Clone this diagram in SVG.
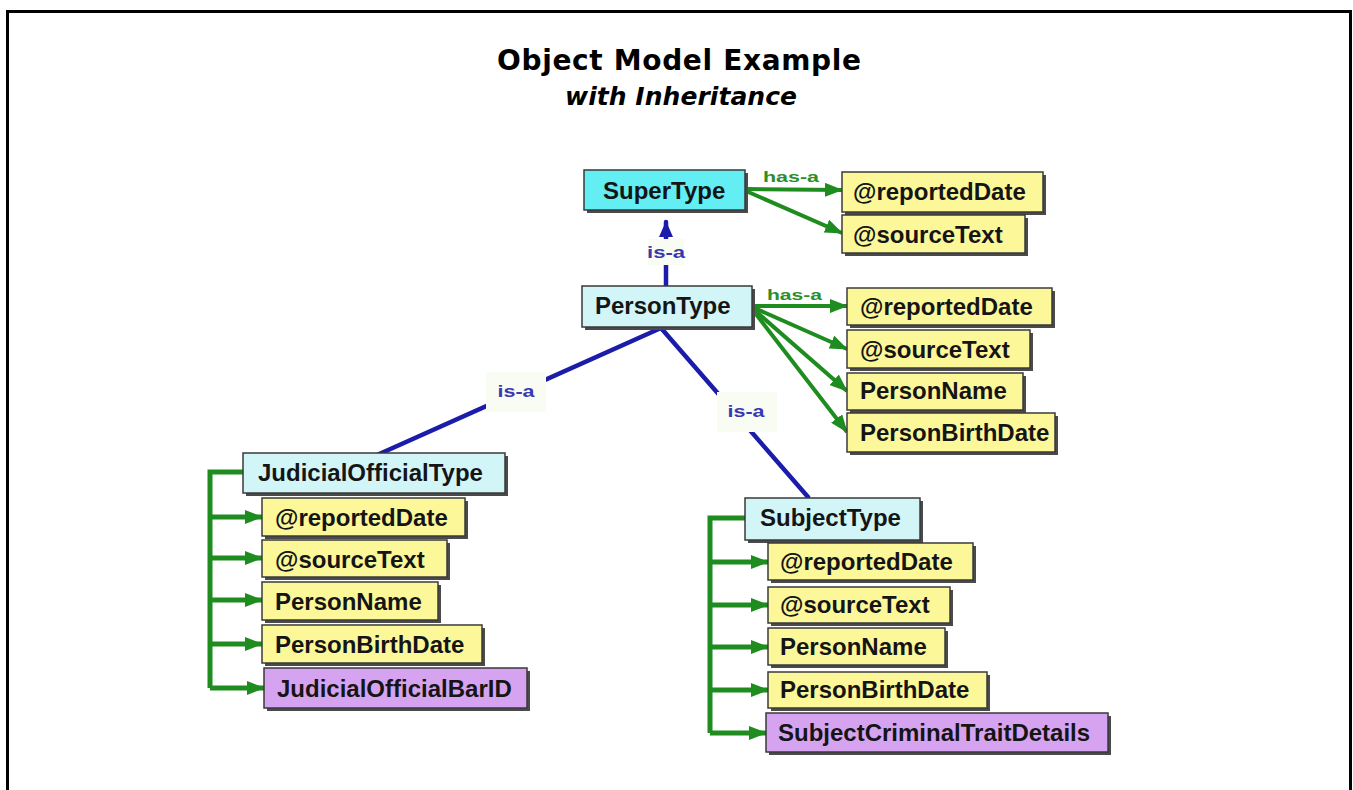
<svg xmlns="http://www.w3.org/2000/svg" width="1353" height="790" viewBox="0 0 1353 790">
<style>
.frame{fill:#fff;stroke:#000;stroke-width:3}
.t1{font-family:"DejaVu Sans",Verdana,sans-serif;font-weight:bold;font-size:28px;fill:#000}
.t2{font-family:"DejaVu Sans",Verdana,sans-serif;font-weight:bold;font-style:italic;font-size:25px;fill:#000}
.sh{fill:#4a4a4a}
.box{stroke:#3a3a3a;stroke-width:1.5}
.sup{fill:#62eef2}
.typ{fill:#d2f5f8}
.att{fill:#fcf89a}
.ext{fill:#d5a3f0}
.lbl{font-family:"Liberation Sans",Arial,sans-serif;font-weight:bold;font-size:24px;fill:#151515}
.g{stroke:#1e8c1e;stroke-width:5;fill:none}
.gh{stroke:#1e8c1e;stroke-width:4;fill:none}
.b{stroke:#1c1caa;stroke-width:4.5;fill:none;stroke-linecap:round}
.has{font-family:"Liberation Sans",Arial,sans-serif;font-weight:bold;font-size:15px;fill:#2a8f2a}
.isa{font-family:"Liberation Sans",Arial,sans-serif;font-weight:bold;font-size:16px;fill:#3838b0}
.lbg{fill:#f8fcf3}
</style>
<defs>
<marker id="ag" markerUnits="userSpaceOnUse" markerWidth="18" markerHeight="14" refX="17" refY="7" orient="auto">
<path d="M0,0 L18,7 L0,14 z" fill="#1e8c1e"/>
</marker>
<marker id="ab" markerUnits="userSpaceOnUse" markerWidth="16" markerHeight="14" refX="15" refY="7" orient="auto">
<path d="M0,0 L16,7 L0,14 z" fill="#1c1caa"/>
</marker>
</defs>
<rect class="frame" x="7.5" y="11.5" width="1343" height="800"/>
<g id="title">
<text class="t1" x="679" y="70" text-anchor="middle" textLength="364">Object Model Example</text>
<text class="t2" x="681" y="105" text-anchor="middle" textLength="232">with Inheritance</text>
</g>
<g id="connectors">
<line class="gh" x1="746" y1="189" x2="842" y2="190" marker-end="url(#ag)"/>
<line class="gh" x1="746" y1="191" x2="842" y2="233" marker-end="url(#ag)"/>
<line class="gh" x1="752" y1="306" x2="847" y2="306" marker-end="url(#ag)"/>
<line class="gh" x1="752" y1="307" x2="847" y2="349" marker-end="url(#ag)"/>
<line class="gh" x1="752" y1="308" x2="847" y2="391" marker-end="url(#ag)"/>
<line class="gh" x1="752" y1="309" x2="847" y2="432" marker-end="url(#ag)"/>
<line class="b" x1="666" y1="286" x2="666" y2="222" marker-end="url(#ab)"/>
<polyline class="b" points="377,455 661,328 808,497" stroke-linejoin="round"/>
<polyline class="g" points="243,472 210,472 210,688"/>
<line class="g" x1="210" y1="517" x2="262" y2="517" marker-end="url(#ag)"/>
<line class="g" x1="210" y1="558" x2="262" y2="558" marker-end="url(#ag)"/>
<line class="g" x1="210" y1="600" x2="262" y2="600" marker-end="url(#ag)"/>
<line class="g" x1="210" y1="644" x2="262" y2="644" marker-end="url(#ag)"/>
<line class="g" x1="210" y1="688" x2="264" y2="688" marker-end="url(#ag)"/>
<polyline class="g" points="745,518 710,518 710,733"/>
<line class="g" x1="710" y1="562" x2="768" y2="562" marker-end="url(#ag)"/>
<line class="g" x1="710" y1="605" x2="768" y2="605" marker-end="url(#ag)"/>
<line class="g" x1="710" y1="647" x2="768" y2="647" marker-end="url(#ag)"/>
<line class="g" x1="710" y1="690" x2="768" y2="690" marker-end="url(#ag)"/>
<line class="g" x1="710" y1="733" x2="766" y2="733" marker-end="url(#ag)"/>
<text class="has" x="763" y="182" textLength="56" lengthAdjust="spacingAndGlyphs">has-a</text>
<text class="has" x="767" y="300" textLength="55" lengthAdjust="spacingAndGlyphs">has-a</text>
<rect class="lbg" x="648" y="239" width="36" height="26"/>
<text class="isa" x="666" y="258" text-anchor="middle" textLength="38" lengthAdjust="spacingAndGlyphs">is-a</text>
<rect class="lbg" x="486" y="372" width="60" height="40"/>
<text class="isa" x="516" y="397" text-anchor="middle" textLength="37" lengthAdjust="spacingAndGlyphs">is-a</text>
<rect class="lbg" x="717" y="392" width="60" height="40"/>
<text class="isa" x="746" y="417" text-anchor="middle" textLength="37" lengthAdjust="spacingAndGlyphs">is-a</text>
</g>
<g id="SuperType">
<rect class="sh" x="587" y="173" width="161" height="40"/>
<rect class="box sup" x="584" y="170" width="161" height="40"/>
<text class="lbl" x="603" y="199">SuperType</text>
</g>
<g id="super-reportedDate">
<rect class="sh" x="845" y="175" width="201" height="40"/>
<rect class="box att" x="842" y="172" width="201" height="40"/>
<text class="lbl" x="853" y="200">@reportedDate</text>
</g>
<g id="super-sourceText">
<rect class="sh" x="845" y="218" width="183" height="38"/>
<rect class="box att" x="842" y="215" width="183" height="38"/>
<text class="lbl" x="853" y="243">@sourceText</text>
</g>
<g id="PersonType">
<rect class="sh" x="585" y="289" width="170" height="41"/>
<rect class="box typ" x="582" y="286" width="170" height="41"/>
<text class="lbl" x="595" y="314">PersonType</text>
</g>
<g id="person-reportedDate">
<rect class="sh" x="850" y="291" width="205" height="37"/>
<rect class="box att" x="847" y="288" width="205" height="37"/>
<text class="lbl" x="860" y="315">@reportedDate</text>
</g>
<g id="person-sourceText">
<rect class="sh" x="850" y="333" width="183" height="38"/>
<rect class="box att" x="847" y="330" width="183" height="38"/>
<text class="lbl" x="860" y="358">@sourceText</text>
</g>
<g id="person-PersonName">
<rect class="sh" x="850" y="376" width="176" height="37"/>
<rect class="box att" x="847" y="373" width="176" height="37"/>
<text class="lbl" x="860" y="399">PersonName</text>
</g>
<g id="person-PersonBirthDate">
<rect class="sh" x="850" y="416" width="208" height="39"/>
<rect class="box att" x="847" y="413" width="208" height="39"/>
<text class="lbl" x="860" y="441">PersonBirthDate</text>
</g>
<g id="JudicialOfficialType">
<rect class="sh" x="246" y="456" width="262" height="40"/>
<rect class="box typ" x="243" y="453" width="262" height="40"/>
<text class="lbl" x="258" y="481">JudicialOfficialType</text>
</g>
<g id="jud-reportedDate">
<rect class="sh" x="265" y="501" width="203" height="38"/>
<rect class="box att" x="262" y="498" width="203" height="38"/>
<text class="lbl" x="275" y="526">@reportedDate</text>
</g>
<g id="jud-sourceText">
<rect class="sh" x="265" y="543" width="185" height="37"/>
<rect class="box att" x="262" y="540" width="185" height="37"/>
<text class="lbl" x="275" y="568">@sourceText</text>
</g>
<g id="jud-PersonName">
<rect class="sh" x="265" y="585" width="176" height="38"/>
<rect class="box att" x="262" y="582" width="176" height="38"/>
<text class="lbl" x="275" y="610">PersonName</text>
</g>
<g id="jud-PersonBirthDate">
<rect class="sh" x="265" y="628" width="220" height="38"/>
<rect class="box att" x="262" y="625" width="220" height="38"/>
<text class="lbl" x="275" y="653">PersonBirthDate</text>
</g>
<g id="JudicialOfficialBarID">
<rect class="sh" x="267" y="671" width="263" height="40"/>
<rect class="box ext" x="264" y="668" width="263" height="40"/>
<text class="lbl" x="277" y="697">JudicialOfficialBarID</text>
</g>
<g id="SubjectType">
<rect class="sh" x="748" y="501" width="175" height="42"/>
<rect class="box typ" x="745" y="498" width="175" height="42"/>
<text class="lbl" x="760" y="526">SubjectType</text>
</g>
<g id="subj-reportedDate">
<rect class="sh" x="771" y="546" width="205" height="37"/>
<rect class="box att" x="768" y="543" width="205" height="37"/>
<text class="lbl" x="780" y="570">@reportedDate</text>
</g>
<g id="subj-sourceText">
<rect class="sh" x="771" y="590" width="182" height="36"/>
<rect class="box att" x="768" y="587" width="182" height="36"/>
<text class="lbl" x="780" y="613">@sourceText</text>
</g>
<g id="subj-PersonName">
<rect class="sh" x="771" y="631" width="177" height="37"/>
<rect class="box att" x="768" y="628" width="177" height="37"/>
<text class="lbl" x="780" y="655">PersonName</text>
</g>
<g id="subj-PersonBirthDate">
<rect class="sh" x="771" y="675" width="219" height="36"/>
<rect class="box att" x="768" y="672" width="219" height="36"/>
<text class="lbl" x="780" y="698">PersonBirthDate</text>
</g>
<g id="SubjectCriminalTraitDetails">
<rect class="sh" x="769" y="716" width="342" height="39"/>
<rect class="box ext" x="766" y="713" width="342" height="39"/>
<text class="lbl" x="778" y="741">SubjectCriminalTraitDetails</text>
</g>
</svg>
